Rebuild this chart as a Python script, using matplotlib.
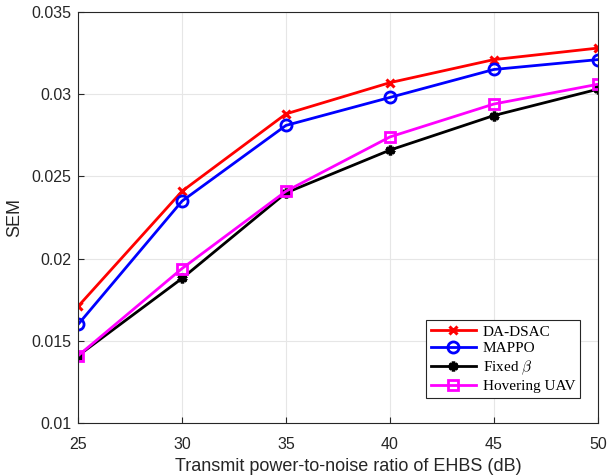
import matplotlib.pyplot as plt

plt.rcParams['font.family'] = ['Liberation Sans', 'DejaVu Sans']
plt.rcParams['mathtext.fontset'] = 'cm'

snr = [25, 30, 35, 40, 45, 50]
da_dsac = [0.0171, 0.0241, 0.0288, 0.0307, 0.0321, 0.0328]
mappo = [0.0160, 0.0235, 0.0281, 0.0298, 0.0315, 0.0321]
fixed_beta = [0.0141, 0.0188, 0.0240, 0.0266, 0.0287, 0.0303]
hovering = [0.0141, 0.0194, 0.0241, 0.0274, 0.0294, 0.0306]

fig = plt.figure(figsize=(6.1, 4.76), dpi=100)
ax = fig.add_axes([0.128, 0.111, 0.852, 0.864])

ax.plot(snr, da_dsac, color='red', lw=2, marker='x', ms=6, mew=2.2, label='DA-DSAC')
ax.plot(snr, mappo, color='blue', lw=2, marker='o', ms=8, mew=2, mfc='none', label='MAPPO')
ax.plot(snr, fixed_beta, color='black', lw=2, marker=(6, 2, 0), ms=7, mew=2.5, label=r'Fixed $\beta$')
ax.plot(snr, hovering, color='magenta', lw=2, marker='s', ms=7, mew=2, mfc='none', label='Hovering UAV')

ax.set_xlim(25, 50)
ax.set_ylim(0.01, 0.035)
ax.set_xticks(snr)
ax.set_yticks([0.01, 0.015, 0.02, 0.025, 0.03, 0.035])
ax.set_yticklabels(['0.01', '0.015', '0.02', '0.025', '0.03', '0.035'])
ax.grid(True, color='#e6e6e6', lw=0.8)
ax.set_axisbelow(True)
ax.tick_params(direction='in', labelsize=11.5, colors='#262626', length=4)
ax.tick_params(axis='x', pad=10)
ax.tick_params(axis='y', pad=5)
for s in ax.spines.values():
    s.set_color('#262626')
ax.set_xlabel('Transmit power-to-noise ratio of EHBS (dB)', fontsize=13, color='#262626', labelpad=3)
ax.xaxis.set_label_coords(0.52, -0.085)
ax.set_ylabel('SEM', fontsize=13, color='#262626', labelpad=6)

leg = ax.legend(loc='lower right', bbox_to_anchor=(0.965, 0.061), borderaxespad=0,
                fancybox=False, edgecolor='#262626', framealpha=1, borderpad=0.3,
                labelspacing=0.2, handlelength=3.0, handletextpad=0.4,
                prop={'family': ['Liberation Serif', 'DejaVu Serif'], 'size': 11})
leg.get_frame().set_linewidth(0.8)

fig.savefig('out.png', dpi=100)
